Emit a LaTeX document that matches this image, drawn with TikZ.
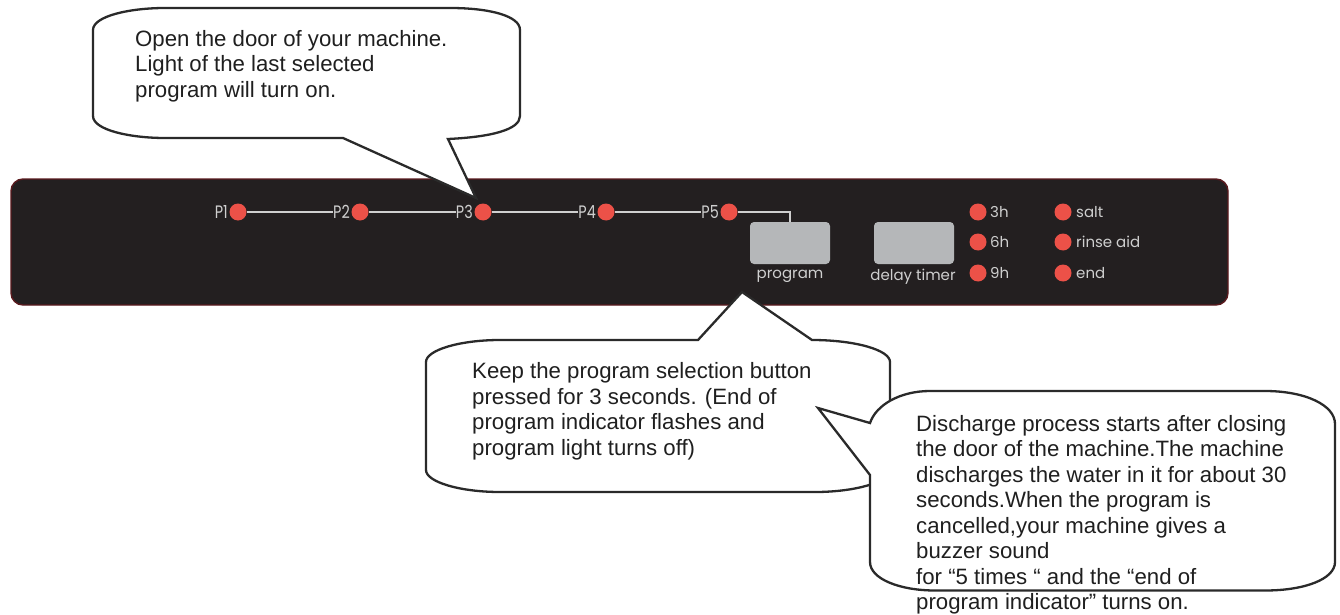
\documentclass[tikz,border=0pt]{standalone}
\usepackage{fontspec}
\setmainfont{Liberation Sans}
\newfontfamily\panelfont{Poppins}
\newfontfamily\plabfont[FakeStretch=0.8]{Poppins}
\definecolor{panelfill}{HTML}{231F20}
\definecolor{paneledge}{HTML}{5A1A1E}
\definecolor{ledred}{HTML}{EC5148}
\definecolor{btn}{HTML}{B5B7B9}
\definecolor{paneltext}{HTML}{CFCFCF}
\definecolor{bubbleline}{HTML}{2A2A2A}
\tikzset{
  bubble/.style={draw=bubbleline,fill=white,line width=2.3pt,line join=miter},
  bubbletext/.style={anchor=north west,inner sep=0pt,align=left,text=black!88,font=\fontsize{22.2}{25.5}\selectfont},
  led/.style={circle,fill=ledred,minimum size=17pt,inner sep=0pt},
  panelbtn/.style={fill=btn,rounded corners=4pt,inner sep=0pt,minimum width=80pt,minimum height=42pt},
  plab/.style={text=paneltext,inner sep=0pt,font=\panelfont\fontsize{15}{15}\selectfont},
  numlab/.style={text=paneltext,inner sep=0pt,anchor=east,font=\plabfont\fontsize{18}{18}\selectfont},
  side/.style={text=paneltext,inner sep=0pt,anchor=west,font=\panelfont\fontsize{15}{15}\selectfont},
  wire/.style={draw=paneltext,line width=1.5pt},
}
\begin{document}
\begin{tikzpicture}[x=1pt,y=-1pt]
\useasboundingbox (0,0) rectangle (1340,615);
\fill[white] (0,0) rectangle (1340,615);
\draw[fill=panelfill,draw=paneledge,line width=1.4pt,rounded corners=12pt] (11,179) rectangle (1228,305);
% program row
\node[led] (l1) at (238,212) {};
\node[led] (l2) at (360,212) {};
\node[led] (l3) at (483,212) {};
\node[led] (l4) at (606,212) {};
\node[led] (l5) at (729,212) {};
\node[numlab] (p1) at (228,212) {P1};
\node[numlab] (p2) at (350,212) {P2};
\node[numlab] (p3) at (473,212) {P3};
\node[numlab] (p4) at (596,212) {P4};
\node[numlab] (p5) at (719,212) {P5};
\node[panelbtn] (prog) at (790,243) {};
\node[panelbtn] (delay) at (914,243) {};
\draw[wire] (l1) -- (p2.west |- l1);
\draw[wire] (l2) -- (p3.west |- l2);
\draw[wire] (l3) -- (p4.west |- l3);
\draw[wire] (l4) -- (p5.west |- l4);
\draw[wire] (l5) -| (prog.north);
\node[plab] (progl) at (790,276) {program};
\node[plab] (delayl) at (913,277) {delay timer};
\node[led] (t3) at (978,212) {};
\node[led] (t6) at (978,242) {};
\node[led] (t9) at (978,273) {};
\node[led] (ls) at (1063,212) {};
\node[led] (lr) at (1063,242) {};
\node[led] (le) at (1063,273) {};
\node[side] (t3l) at (990,212) {3h};
\node[side] (t6l) at (990,242) {6h};
\node[side] (t9l) at (990,273) {9h};
\node[side] (lsl) at (1076,212) {salt};
\node[side] (lrl) at (1076,242) {rinse aid};
\node[side] (lel) at (1076,273) {end};
% callout 1
\draw[bubble] (93,30) .. controls (93,16) and (130,8) .. (165,8) -- (450,8)
  .. controls (490,8) and (520,16) .. (520,30) -- (520,116)
  .. controls (520,130) and (490,137) .. (448,139) -- (476,198) -- (343,138) -- (165,138)
  .. controls (130,138) and (93,130) .. (93,116) -- cycle;
\node[bubbletext] (c1) at (135,30) {Open the door of your machine.\\Light of the last selected\\program will turn on.};
% callout 2
\draw[bubble] (426,362) .. controls (426,350) and (460,340) .. (500,340) -- (698,340) -- (742,292) -- (812,340)
  .. controls (855,340) and (890,350) .. (890,362) -- (890,470)
  .. controls (890,482) and (855,492) .. (815,492) -- (500,492)
  .. controls (460,492) and (426,482) .. (426,470) -- cycle;
\node[bubbletext] (c2) at (472,362.5) {Keep the program selection button\\pressed for 3 seconds. (End of\\program indicator flashes and\\program light turns off)};
% callout 3
\draw[bubble] (870,423) .. controls (876,405) and (900,391) .. (930,391) -- (1265,391)
  .. controls (1305,391) and (1335,405) .. (1335,424) -- (1335,562)
  .. controls (1335,579) and (1305,590.5) .. (1265,590.5) -- (935,590.5)
  .. controls (900,590.5) and (870,579) .. (870,562) -- (870,475) -- (818,408) -- cycle;
\node[bubbletext] (c3) at (916,415) {Discharge process starts after closing\\the door of the machine.The machine\\discharges the water in it for about 30\\seconds.When the program is\\cancelled,your machine gives a\\buzzer sound\\for “5 times “ and the “end of\\program indicator” turns on.};
\end{tikzpicture}
\end{document}
